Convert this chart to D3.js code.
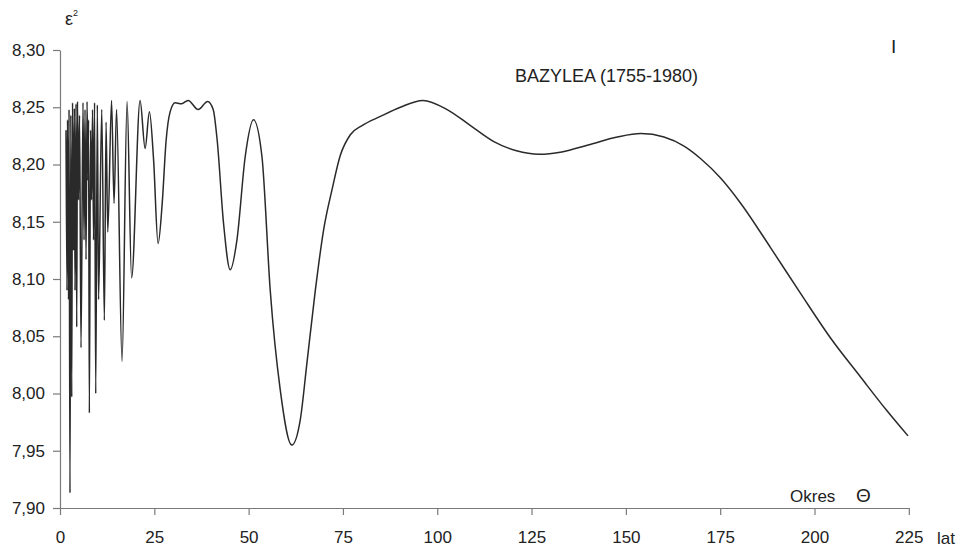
<!DOCTYPE html>
<html>
<head>
<meta charset="utf-8">
<script src="https://cdn.jsdelivr.net/npm/d3@7"></script>
<style>
  body { margin: 0; background: #fff; }
  text { font-family: "Liberation Sans", Arial, sans-serif; fill: #222; }
</style>
</head>
<body>
<div id="chart"></div>
<script>
// Okres (period, years) and epsilon^2 values
const periods = [
    1.59, 1.86, 1.99, 2.26, 2.39, 2.65, 2.87, 3.11, 3.32, 3.58,
    3.80, 3.98, 4.25, 4.43, 4.64, 4.91, 5.18, 5.57, 6.10, 6.37,
    6.63, 6.90, 7.17, 7.43, 7.56, 7.78, 8.09, 8.36, 8.63, 8.89,
    9.16, 9.47, 9.90, 10.22, 11.07, 11.76, 12.21, 12.66, 13.67, 14.33,
    14.99, 16.45, 17.78, 18.98, 21.23, 22.56, 23.70, 24.81, 26.0, 27.07,
    28.13, 29.19, 30.52, 32.11, 33.97, 36.62, 39.15, 40.61, 41.67, 43.34,
    45.12, 46.90, 49.10, 51.30, 53.53, 55.73, 58.39, 61.44, 63.69, 65.47,
    67.68, 69.88, 72.11, 74.31, 76.96, 80.07, 84.93, 90.23, 96.2,
    102.63, 108.81, 115.0, 121.0, 127.0, 133.0, 140.0, 147.74, 154.0, 160.11, 165.42,
    169.85, 175.16, 180.47, 188.43, 196.39, 204.35, 212.31, 218.95, 224.79
];
const eps2 = [
    8.230, 8.090, 8.239, 8.082, 8.248, 7.913, 8.243, 7.997, 8.254, 8.125,
    8.249, 8.090, 8.253, 8.058, 8.255, 8.169, 8.243, 8.040, 8.254, 8.134,
    8.248, 8.117, 8.255, 8.186, 8.239, 7.983, 8.230, 8.169, 8.248, 8.134,
    8.254, 8.000, 8.252, 8.082, 8.248, 8.064, 8.237, 8.141, 8.256, 8.166,
    8.248, 8.028, 8.255, 8.101, 8.256, 8.214, 8.246, 8.204, 8.131, 8.165,
    8.221, 8.246, 8.254, 8.253, 8.256, 8.248, 8.255, 8.248, 8.221, 8.149,
    8.108, 8.134, 8.207, 8.239, 8.207, 8.090, 8.003, 7.955, 7.977, 8.027,
    8.090, 8.143, 8.178, 8.208, 8.226, 8.234, 8.242, 8.250, 8.256,
    8.248, 8.234, 8.220, 8.212, 8.209, 8.211, 8.217, 8.224, 8.227, 8.224, 8.216,
    8.205, 8.188, 8.166, 8.127, 8.087, 8.048, 8.014, 7.986, 7.963
];

const xTicks = [0, 25, 50, 75, 100, 125, 150, 175, 200, 225];
const yTicks = [7.90, 7.95, 8.00, 8.05, 8.10, 8.15, 8.20, 8.25, 8.30];

const w = 963;
const h = 552;
const margin = { top: 50, right: 55, bottom: 44, left: 60 };

const svg = d3.select("#chart")
    .append("svg")
    .attr("width", w)
    .attr("height", h);

const xScale = d3.scaleLinear()
    .domain([0, 225])
    .range([margin.left, w - margin.right + 0.8]);

const yScale = d3.scaleLinear()
    .domain([7.90, 8.30])
    .range([h - margin.bottom, margin.top]);

const comma = v => d3.format(".2f")(v).replace(".", ",");

const xAxis = d3.axisBottom(xScale)
    .tickValues(xTicks)
    .tickFormat(d3.format("d"))
    .tickSize(7)
    .tickSizeOuter(0)
    .tickPadding(16);

const yAxis = d3.axisLeft(yScale)
    .tickValues(yTicks)
    .tickFormat(comma)
    .tickSize(7)
    .tickSizeOuter(0)
    .tickPadding(8);

const styleAxis = g => {
    g.selectAll("path, line").attr("stroke", "#7a7a7a").attr("stroke-width", 1.2);
    g.selectAll("text")
        .style("font-size", "17px")
        .style("font-family", "'Liberation Sans', Arial, sans-serif")
        .attr("fill", "#222");
};

svg.append("g")
    .attr("id", "x-axis")
    .attr("transform", `translate(0, ${h - margin.bottom})`)
    .call(xAxis)
    .call(styleAxis);

svg.append("g")
    .attr("id", "y-axis")
    .attr("transform", `translate(${margin.left}, 0)`)
    .call(yAxis)
    .call(styleAxis);

const points = periods.map((p, i) => [p, eps2[i]]);

const line = d3.line()
    .x(d => xScale(d[0]))
    .y(d => yScale(d[1]))
    .curve(d3.curveMonotoneX);

svg.append("path")
    .datum(points)
    .attr("fill", "none")
    .attr("stroke", "#2a2a2a")
    .attr("stroke-width", 1.5)
    .attr("d", line);

// labels
const eps = svg.append("text")
    .attr("x", 65)
    .attr("y", 25)
    .style("font-size", "18px")
    .text("ε");
eps.append("tspan")
    .attr("dy", -9)
    .style("font-size", "9px")
    .text("2");

svg.append("text")
    .attr("x", 515)
    .attr("y", 82)
    .style("font-size", "18px")
    .text("BAZYLEA (1755-1980)");

svg.append("text")
    .attr("x", 891)
    .attr("y", 53)
    .style("font-size", "19px")
    .text("I");

svg.append("text")
    .attr("x", 790)
    .attr("y", 502)
    .style("font-size", "17px")
    .text("Okres");

svg.append("text")
    .attr("x", 856)
    .attr("y", 502)
    .style("font-size", "19px")
    .text("Θ");

svg.append("text")
    .attr("x", 937)
    .attr("y", 544)
    .style("font-size", "17px")
    .text("lat");
</script>
</body>
</html>
